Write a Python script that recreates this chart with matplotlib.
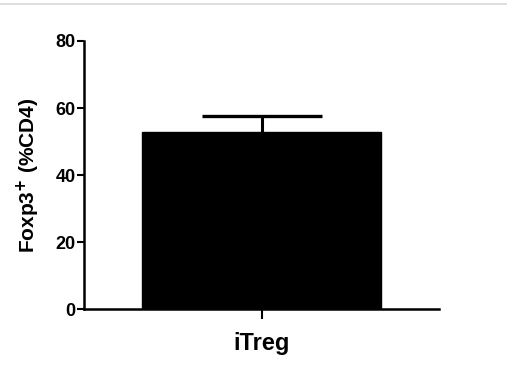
import matplotlib.pyplot as plt
from matplotlib.lines import Line2D

categories = ["iTreg"]
means = [52.8]
errors = [4.9]
y_ticks = [0, 20, 40, 60, 80]

plt.rcParams['font.family'] = ['Liberation Sans', 'DejaVu Sans']
plt.rcParams['font.weight'] = 'bold'

fig = plt.figure(figsize=(5.07, 3.66), dpi=100)
ax = fig.add_axes([0.1657, 0.1549, 0.7002, 0.7331])

x = list(range(len(categories)))
ax.bar(x, means, width=1.346, color="black", edgecolor="black", zorder=2)
_, caps, _ = ax.errorbar(x, means, yerr=[[0] * len(errors), errors], fmt="none",
                         ecolor="black", elinewidth=2.2, capsize=43, capthick=2.4, zorder=1)
caps[0].set_visible(False)  # only the upper cap

ax.set_xlim(-1, 1)
ax.set_ylim(0, 80)
ax.set_yticks(y_ticks)
ax.set_xticks(x)
ax.set_xticklabels(categories, fontsize=17, fontweight="bold")
ax.tick_params(axis="y", labelsize=13, width=1.5, length=5, pad=1)
ax.tick_params(axis="x", width=1.5, length=7, pad=9)
ax.set_ylabel("Foxp3$^{\\mathbf{+}}$ (%CD4)", fontsize=15, fontweight="bold", labelpad=10)

for side in ["top", "right"]:
    ax.spines[side].set_visible(False)
for side in ["left", "bottom"]:
    ax.spines[side].set_linewidth(1.8)

# thin gray rule along the top edge
fig.add_artist(Line2D([0, 1], [0.988, 0.988], transform=fig.transFigure,
                      color="#d9d9d9", linewidth=1.2))

fig.savefig("out.png", dpi=100)
plt.close()
